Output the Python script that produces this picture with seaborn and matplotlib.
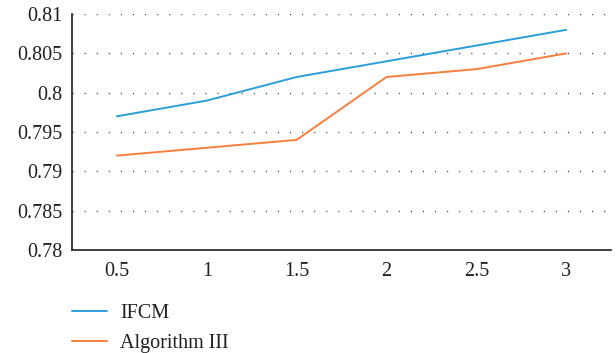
import matplotlib
matplotlib.use("Agg")
import matplotlib.pyplot as plt
import seaborn as sns
import pandas as pd
from matplotlib.ticker import FuncFormatter

x_values = [0.5, 1, 1.5, 2, 2.5, 3]
ifcm = [0.797, 0.799, 0.802, 0.804, 0.806, 0.808]
algorithm_iii = [0.792, 0.793, 0.794, 0.802, 0.803, 0.805]
series_names = ["IFCM", "Algorithm III"]
y_ticks = [0.78, 0.785, 0.79, 0.795, 0.8, 0.805, 0.81]

df = pd.DataFrame({
    "x": x_values * 2,
    "value": ifcm + algorithm_iii,
    "series": [series_names[0]] * len(x_values) + [series_names[1]] * len(x_values),
})

sns.set_theme(style="white")
plt.rcParams["font.family"] = ["Liberation Serif", "DejaVu Serif"]

fig = plt.figure(figsize=(6.16, 3.53), dpi=100)
ax = fig.add_axes([0.117, 0.292, 0.875, 0.668])

palette = {"IFCM": "#2b9fd9", "Algorithm III": "#f47f3e"}
sns.lineplot(data=df, x="x", y="value", hue="series", palette=palette,
             linewidth=1.4, ax=ax, legend=False)

ax.set_xlim(0.25, 3.25)
ax.set_ylim(0.78, 0.81)
ax.set_xticks(x_values)
ax.set_yticks(y_ticks)
fmt = FuncFormatter(lambda v, p: f"{v:g}")
ax.xaxis.set_major_formatter(fmt)
ax.yaxis.set_major_formatter(fmt)
ax.tick_params(axis="both", labelsize=14.5, colors="#231f20", length=0)
ax.tick_params(axis="y", pad=7)
ax.tick_params(axis="x", pad=9)
ax.set_xlabel("")
ax.set_ylabel("")

for yv in y_ticks[1:]:
    ax.axhline(yv, color="#444444", linewidth=1.0, linestyle=(0, (0.8, 7.9)), zorder=0)

for side in ["top", "right"]:
    ax.spines[side].set_visible(False)
for side in ["left", "bottom"]:
    ax.spines[side].set_color("#231f20")
    ax.spines[side].set_linewidth(1.2)

handles = [plt.Line2D([], [], color=palette[n], linewidth=1.4) for n in series_names]
fig.legend(handles, series_names, loc="upper left", bbox_to_anchor=(0.117, 0.138),
           frameon=False, fontsize=14.5, handlelength=1.75, handletextpad=0.65,
           labelspacing=0.5, borderaxespad=0, borderpad=0, labelcolor="#231f20")

fig.savefig("out.png", dpi=100)
